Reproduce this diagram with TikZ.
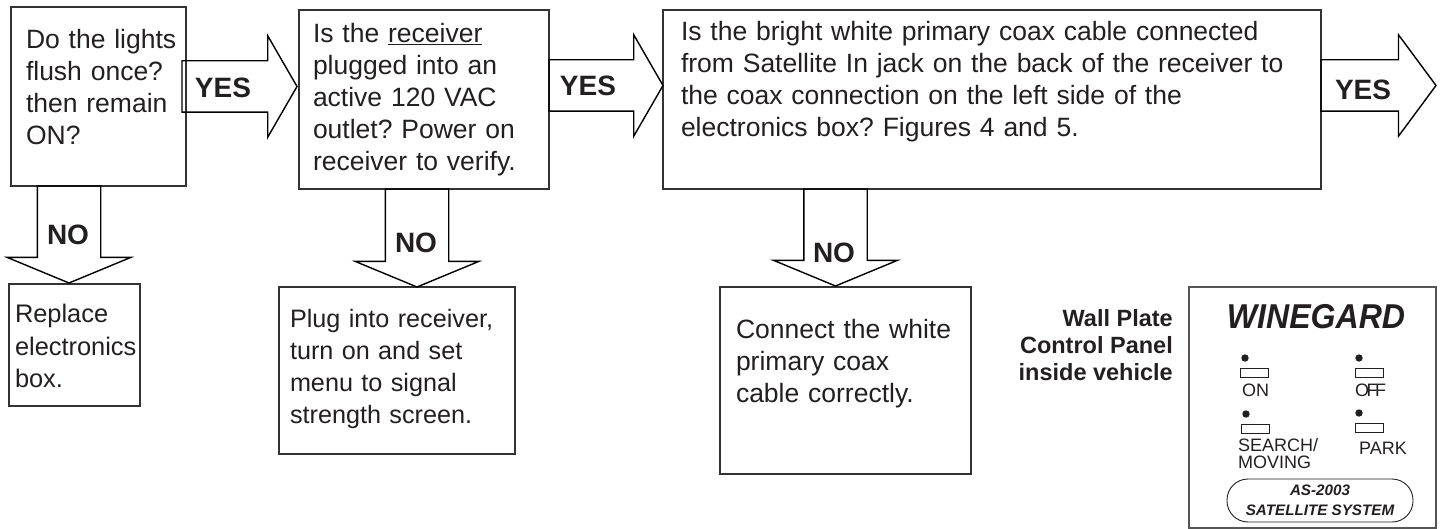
\documentclass[tikz,border=0pt]{standalone}
\usepackage{fontspec}
\setmainfont{Liberation Sans}
\usepackage{tikz}
\usetikzlibrary{positioning, shapes.arrows}
\definecolor{ink}{HTML}{231F20}
\definecolor{boxline}{HTML}{333333}
\definecolor{panelline}{HTML}{555555}
\tikzset{
  qbox/.style n args={4}{draw=boxline, line width=2.2pt, text=ink, outer sep=0pt, inner ysep=0pt,
    inner xsep=#2, text width=#1, text height=#3, text depth=#4, align=left,
    font=\fontsize{26.5}{32}\selectfont},
  block/.style={single arrow, draw=black, line width=1.4pt, outer sep=0pt, anchor=tail, single arrow head indent=0pt},
  yesarrow/.style n args={2}{block, inner sep=25pt, minimum height=#1, minimum width=100pt,
    single arrow head extend=25pt, single arrow tip angle=#2},
  noarrow/.style={block, inner sep=31pt, minimum height=#1, minimum width=121pt,
    single arrow head extend=30pt, single arrow tip angle=135, shape border rotate=270},
  flowlabel/.style={anchor=base, text=ink, font=\fontsize{28}{28}\selectfont\bfseries},
  panellabel/.style={anchor=base west, text=ink, inner sep=0pt, align=left, font=\fontsize{18}{17}\selectfont},
  slot/.style={draw=ink, line width=0.8pt, minimum width=28pt, minimum height=9pt, inner sep=0pt},
  led/.style={circle, fill=ink, minimum size=7.4pt, inner sep=0pt},
}

\begin{document}
\frenchspacing
\begin{tikzpicture}[x=1pt, y=-1pt]
  \useasboundingbox (0,0) rectangle (1445,529);

  % question boxes
  \node[qbox={145pt}{15pt}{42pt}{137pt}, anchor=north west] (lights) at (11,7)
    {\mbox{Do the lights}\\flush once?\\then remain\\ON?};
  \node[qbox={222pt}{14pt}{33pt}{146pt}, below right=3pt and 113pt of lights.north east] (receiver)
    {Is the \underline{receiver}\\plugged into an\\active 120 VAC\\outlet? Power on\\receiver to verify.};
  \node[qbox={622pt}{18pt}{31pt}{148pt}, below right=0pt and 114pt of receiver.north east] (coax)
    {Is the bright white primary coax cable connected\\from Satellite In jack on the back of the receiver to\\the coax connection on the left side of the\\electronics box? Figures 4 and 5.};

  % answers
  \node[qbox={119pt}{6pt}{38pt}{84pt}, below right=98pt and -2pt of lights.south west, font=\fontsize{25.4}{32}\selectfont] (replace)
    {Replace\\[1.5pt]\mbox{electronics}\\[-0.5pt]box.};
  \node[qbox={214pt}{11pt}{40pt}{127pt}, below right=98pt and -20pt of receiver.south west, font=\fontsize{25.2}{32}\selectfont] (plug)
    {Plug into receiver,\\turn on and set\\menu to signal\\strength screen.};
  \node[qbox={219pt}{16pt}{51pt}{136pt}, below right=98pt and 57pt of coax.south west] (connect)
    {Connect the white\\primary coax\\cable correctly.};

  % block arrows
  \node[yesarrow={115pt}{120}] (yes1) at ([xshift=-4pt, yshift=10pt]lights.east) {};
  \node[yesarrow={114pt}{120}] (yes2) at ([yshift=14pt]receiver.east) {};
  \node[yesarrow={115pt}{107}] (yes3) at ([yshift=14pt]coax.east) {};
  \node[noarrow=97pt] (no1) at ([xshift=-29.5pt]lights.south) {};
  \node[noarrow=98pt] (no2) at ([xshift=-7pt]receiver.south) {};
  \node[noarrow=97pt] (no3) at ([xshift=-156.5pt]coax.south) {};

  \node[flowlabel] (yes1label) at (223,98) {YES};
  \node[flowlabel] (yes2label) at (588,96) {YES};
  \node[flowlabel] (yes3label) at (1363,100) {YES};
  \node[flowlabel] (no1label) at (68,245) {NO};
  \node[flowlabel] (no2label) at (416,253) {NO};
  \node[flowlabel] (no3label) at (834,262) {NO};

  % wall plate
  \node[anchor=base east, text=ink, inner sep=0pt, align=right, font=\fontsize{23.5}{27}\selectfont\bfseries] (caption) at (1173,380)
    {Wall Plate\\Control Panel\\inside vehicle};
  \node[draw=panelline, line width=1.2pt, outer sep=0pt, minimum width=247pt, minimum height=241pt, anchor=north west] (panel) at (1189,287) {};
  \node[anchor=base, text=ink, inner sep=0pt, font=\fontsize{34.5}{34}\selectfont\bfseries\itshape] (brand) at (1316,328) {\scalebox{0.93}[1]{WINEGARD}};

  \node[led] (onled) at (1245,358) {};
  \node[led] (offled) at (1359,358) {};
  \node[led] (searchled) at (1246,414) {};
  \node[led] (parkled) at (1359,413) {};
  \node[slot] (onslot) at (1254,372.5) {};
  \node[slot] (offslot) at (1369,372.5) {};
  \node[slot] (searchslot) at (1255,428.5) {};
  \node[slot] (parkslot) at (1369.5,427.5) {};

  \node[panellabel] (onlabel) at (1242,396) {ON};
  \node[panellabel] (offlabel) at (1355,396) {O\kern-2.5pt F\kern-2.5pt F};
  \node[panellabel, anchor=north west, yshift=13pt] (searchlabel) at (1238,451) {SEARCH/\\MOVING};
  \node[panellabel] (parklabel) at (1359,454) {PARK};

  \node[draw=ink, line width=0.9pt, rounded corners=21pt, minimum width=186pt, minimum height=43pt] (model) at (1320,500.5) {};
  \node[anchor=base, text=ink, inner sep=0pt, font=\fontsize{15.2}{15}\selectfont\bfseries\itshape] (modelname) at (1320,495) {AS-2003};
  \node[anchor=base, text=ink, inner sep=0pt, font=\fontsize{15.2}{15}\selectfont\bfseries\itshape] (system) at (1320,515) {SATELLITE SYSTEM};
\end{tikzpicture}
\end{document}
